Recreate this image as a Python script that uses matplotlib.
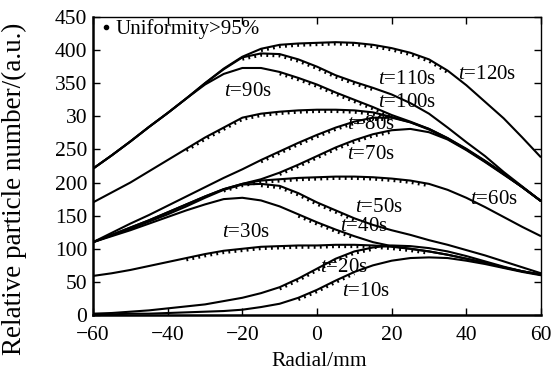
import matplotlib
matplotlib.use('Agg')
import matplotlib.pyplot as plt
from matplotlib.transforms import offset_copy
from matplotlib.lines import Line2D

plt.rcParams['font.family'] = ['Liberation Serif', 'DejaVu Serif']
plt.rcParams['mathtext.fontset'] = 'custom'
plt.rcParams['mathtext.rm'] = 'Liberation Serif'
plt.rcParams['mathtext.it'] = 'Liberation Serif:italic'

# ---------------- data ----------------
radial = [-60, -55, -50, -45, -40, -35, -30, -25, -20, -15, -10, -5, 0,
          5, 10, 15, 20, 25, 30, 35, 40, 45, 50, 55, 60]

t10 = [1, 1, 2, 2, 3, 4, 5, 6, 8, 12, 17, 26, 38, 52, 65, 75, 82, 86, 87, 86, 82, 77, 71, 65, 60]
t20 = [2, 3, 5, 7, 10, 13, 16, 21, 26, 33, 42, 55, 70, 85, 96, 102, 105, 104, 101, 96, 89, 81, 73, 66, 61]
t30 = [59, 63, 68, 74, 80, 86, 92, 97, 100, 103, 104, 105, 105, 106, 106, 105, 103, 100, 96, 91, 85, 79, 72, 66, 61]
t40 = [110, 119, 128, 138, 148, 158, 167, 175, 177, 173, 164, 152, 140, 129, 119, 110, 104, 100, 96, 91, 85, 79, 72, 66, 61]
t50 = [110, 120, 130, 141, 152, 164, 177, 189, 197, 198, 195, 184, 170, 158, 146, 136, 128, 121, 113, 106, 98, 90, 81, 72, 63]
t60 = [110, 121, 132, 143, 155, 167, 179, 190, 198, 203, 205, 207, 208, 209, 209, 208, 206, 203, 198, 189, 177, 163, 148, 133, 119]
t70 = [110, 121, 132, 143, 155, 167, 179, 190, 198, 205, 215, 227, 240, 253, 264, 273, 279, 281, 276, 265, 249, 231, 212, 193, 172]
t80 = [110, 124, 138, 151, 165, 179, 193, 207, 220, 234, 247, 260, 272, 283, 292, 298, 298, 291, 280, 266, 250, 232, 213, 193, 172]
t90 = [170, 185, 200, 217, 234, 251, 268, 283, 298, 304, 307, 309, 310, 310, 309, 306, 299, 291, 281, 267, 251, 233, 214, 193, 172]
t100 = [221, 241, 262, 284, 305, 327, 348, 364, 373, 373, 367, 358, 348, 336, 325, 314, 302, 292, 281, 267, 250, 232, 213, 193, 172]
t110 = [221, 241, 262, 284, 305, 327, 350, 371, 389, 395, 394, 386, 375, 362, 352, 343, 333, 320, 304, 283, 261, 240, 216, 194, 172]
t120 = [221, 241, 262, 284, 305, 327, 350, 372, 390, 402, 408, 410, 411, 412, 411, 408, 403, 396, 386, 369, 347, 322, 297, 268, 238]

series = [t10, t20, t30, t40, t50, t60, t70, t80, t90, t100, t110, t120]
names = ['10s', '20s', '30s', '40s', '50s', '60s', '70s', '80s', '90s', '100s', '110s', '120s']
# radial range where uniformity > 95% (dotted marks)
uniform = [(-5, 10), (-10, 15), (-35, 30), (-5, 10), (-15, 10), (-25, 30),
           (-10, 20), (-15, 20), (-35, 20), (-10, 20), (-20, 15), (-15, 35)]
# label anchor (left edge x, centre y) in data units
label_x = [6.7, 0.8, -25.4, 6.2, 10.2, 41, 8, 8, -24.9, 16.4, 16.4, 37.8]
label_y = [35, 71, 125, 133, 163, 174, 243, 287, 337, 321, 355, 363]

yticks = [0, 50, 100, 150, 200, 250, 300, 350, 400, 450]
ytick_labels = ['0', '50', '100', '150', '200', '250', '30', '350', '400', '450']
xticks = [-60, -40, -20, 0, 20, 40, 60]
xtick_labels = ['\u221260', '\u221240', '\u221220', '0', '20', '40', '60']

# ---------------- figure ----------------
fig = plt.figure(figsize=(5.55, 3.77), dpi=100)
ax = fig.add_axes([93 / 555, 62 / 377, 448 / 555, 298 / 377])

dot_tr = offset_copy(ax.transData, fig=fig, x=0, y=-1.3, units='points')
for ys, (a, b) in zip(series, uniform):
    ax.plot(radial, ys, color='black', lw=1.5, solid_capstyle='butt',
            solid_joinstyle='round')
    xs = [x for x in radial if a <= x <= b]
    yy = [y for x, y in zip(radial, ys) if a <= x <= b]
    ax.plot(xs, yy, color='black', lw=2.2, linestyle=(0, (0.6, 1.4)),
            transform=dot_tr)

for n, lx, ly in zip(names, label_x, label_y):
    ax.text(lx, ly, r'$t$=' + n, fontsize=15, ha='left', va='center')

ax.set_xlim(-60, 60)
ax.set_ylim(0, 450)
ax.set_xticks(xticks)
ax.set_xticklabels(xtick_labels)
ax.set_yticks(yticks)
ax.set_yticklabels(ytick_labels)
ax.tick_params(direction='in', length=5, width=1, labelsize=15.5,
               top=True, right=True)
ax.tick_params(axis='x', pad=8)
ax.tick_params(axis='y', pad=4)
ax.set_xlabel('Radial/mm', fontsize=15.5)
ax.set_ylabel('Relative particle number/(a.u.)', fontsize=19.5)
ax.xaxis.set_label_coords(0.504, -0.125)
ax.yaxis.set_label_coords(-0.147, 0.425)

for s in ['left', 'bottom']:
    ax.spines[s].set_linewidth(1.8)
for s in ['top', 'right']:
    ax.spines[s].set_linewidth(1.0)

h = Line2D([], [], ls='none', marker='.', color='black', ms=6, label='Uniformity>95%')
ax.legend(handles=[h], loc='upper left', frameon=False, fontsize=15,
          handletextpad=0.0, handlelength=1.0, borderaxespad=0.0, borderpad=0.1,
          bbox_to_anchor=(0.0, 1.0))

fig.savefig('out.png', dpi=100)
